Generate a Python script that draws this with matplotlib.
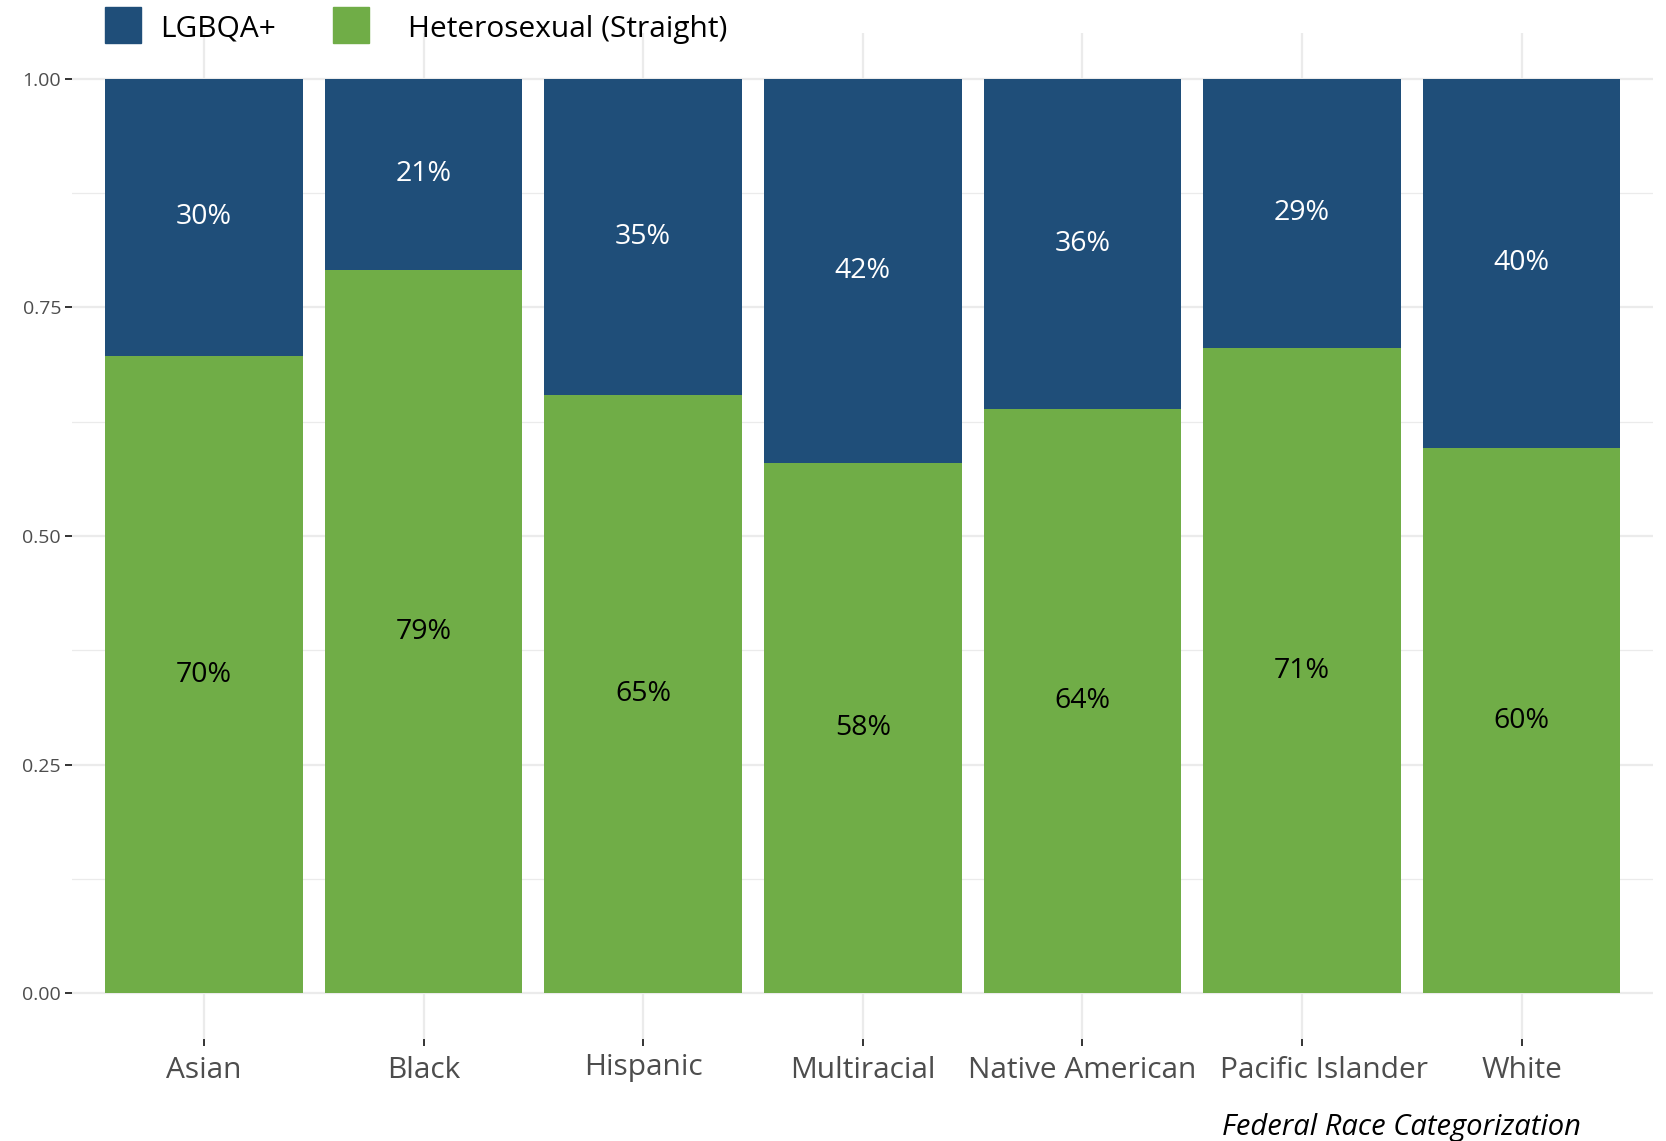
import numpy as np
import matplotlib.pyplot as plt
import matplotlib.transforms as mtransforms
from matplotlib.patches import Rectangle

plt.rcParams["font.family"] = ["Open Sans", "DejaVu Sans"]

# share of respondents per race group
races = ["Asian", "Black", "Hispanic", "Multiracial", "Native American",
         "Pacific Islander", "White"]
straight = [0.697, 0.791, 0.654, 0.580, 0.639, 0.706, 0.596]
lgbqa = [0.303, 0.209, 0.346, 0.420, 0.361, 0.294, 0.404]

blue = "#1F4E79"
green = "#70AD47"
grid_col = "#EBEBEB"

fig = plt.figure(figsize=(16.66, 11.41), dpi=100)
ax = fig.add_axes([0.0433, 0.0892, 0.9491, 0.882])

x = np.arange(1, len(races) + 1)
ax.bar(x, straight, width=0.9, color=green, zorder=2)
ax.bar(x, lgbqa, width=0.9, bottom=straight, color=blue, zorder=2)

# percentage labels in the middle of each segment
for xi, s, l in zip(x, straight, lgbqa):
    ax.text(xi, s / 2, f"{round(s * 100)}%", ha="center", va="center",
            fontsize=20.5, color="black", zorder=3)
    ax.text(xi, s + l / 2, f"{round(l * 100)}%", ha="center", va="center",
            fontsize=20.5, color="white", zorder=3)

ax.set_xlim(0.4, 7.6)
ax.set_ylim(-0.05, 1.05)
ax.set_xticks(x)
ax.set_xticklabels(races)
ax.set_yticks([0, 0.25, 0.5, 0.75, 1.0])
ax.set_yticklabels(["0.00", "0.25", "0.50", "0.75", "1.00"])
ax.set_yticks([0.125, 0.375, 0.625, 0.875], minor=True)

ax.grid(True, which="major", color=grid_col, linewidth=1.6, zorder=0)
ax.grid(True, which="minor", axis="y", color=grid_col, linewidth=0.9, zorder=0)
ax.set_axisbelow(True)
for sp in ax.spines.values():
    sp.set_visible(False)

ax.tick_params(axis="x", length=5, width=1.4, color="#333333", pad=7,
               labelsize=21.5, labelcolor="#4D4D4D")
ax.tick_params(axis="y", length=5, width=1.4, color="#333333", pad=3,
               labelsize=14, labelcolor="#4D4D4D")
ax.tick_params(axis="y", which="minor", length=0)

# nudge a couple of crowded x labels
nudges = {"Hispanic": (0, 0.03), "Pacific Islander": (0.22, 0)}
for lab in ax.get_xticklabels():
    if lab.get_text() in nudges:
        dx, dy = nudges[lab.get_text()]
        off = mtransforms.ScaledTranslation(dx, dy, fig.dpi_scale_trans)
        lab.set_transform(lab.get_transform() + off)

fig.text(0.949, 0.0055, "Federal Race Categorization", ha="right",
         va="baseline", fontsize=21, style="italic", color="black")

# legend along the top
fig.add_artist(Rectangle((105 / 1666, 1 - 42.5 / 1141), 36 / 1666, 35 / 1141,
                         transform=fig.transFigure, color=blue))
fig.text(160 / 1666, 1 - 29 / 1141, "LGBQA+", ha="left", va="center",
         fontsize=21.5, color="black")
fig.add_artist(Rectangle((333 / 1666, 1 - 42.5 / 1141), 36 / 1666, 35 / 1141,
                         transform=fig.transFigure, color=green))
fig.text(408 / 1666, 1 - 29 / 1141, "Heterosexual (Straight)", ha="left",
         va="center", fontsize=21.5, color="black")

fig.savefig("out.png", dpi=100, facecolor="white")
